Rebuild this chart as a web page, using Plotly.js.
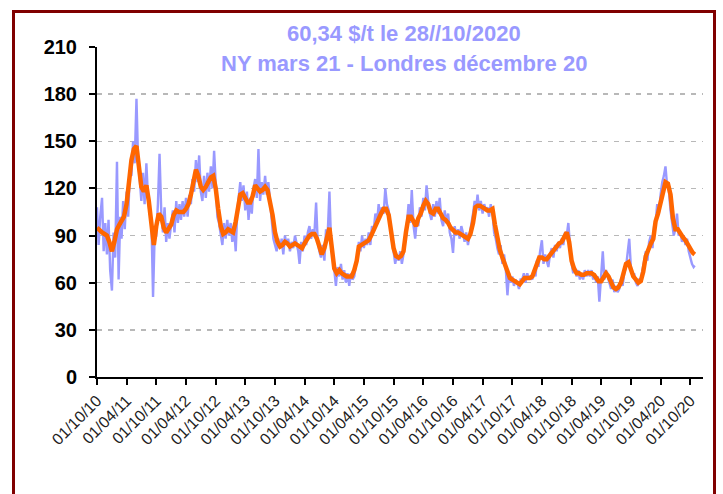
<!DOCTYPE html>
<html>
<head>
<meta charset="utf-8">
<script src="https://cdn.plot.ly/plotly-3.0.1.min.js"></script>
<style>
  html, body { margin: 0; padding: 0; background: #ffffff; overflow: hidden; }
  #wrap { position: relative; width: 723px; height: 494px; }
  #chart { position: absolute; left: 0; top: 0; width: 723px; height: 494px; }
  #frame { position: absolute; left: 12px; top: 10px; width: 698px; height: 600px;
           border: 3px solid #800000; pointer-events: none; }
</style>
</head>
<body>
<div id="wrap"><div id="chart"></div><div id="frame"></div></div>
<script>
// Titles
const titleLine1 = "60,34 $/t le 28//10/2020";
const titleLine2 = "NY mars 21 - Londres décembre 20";

// Axis ticks
const yTicks = [0, 30, 60, 90, 120, 150, 180, 210];
const startMonth = "2010-10"; // first month of the series (Oct 2010)
const lastDate = "2020-10-28";

// Smoothed spread (orange), two readings per month (1st and 16th), Oct -> Sep years
const smooth2010 = [95,93,92,91,90,86,80,86,94,97,99,102,110,128,138,145,147,134,121,118,122,112,94,84];
const smooth2011 = [96,104,102,95,92,94,97,103,106,105,105,105,107,110,116,125,132,128,121,119,121,124,127,128];
const smooth2012 = [120,107,96,91,92,94,93,92,99,111,116,117,113,111,111,115,122,120,118,119,121,119,112,103];
const smooth2013 = [92,86,83,84,86,85,83,84,85,84,83,82,85,88,90,91,91,88,82,78,82,90,95,82];
const smooth2014 = [69,66,68,66,65,64,64,64,68,74,83,84,85,86,87,90,94,97,101,104,107,107,103,92];
const smooth2015 = [82,77,76,77,80,92,102,102,99,96,101,104,109,112,110,105,104,107,107,104,101,100,98,95];
const smooth2016 = [93,92,92,91,90,89,88,91,98,108,109,109,108,107,106,106,107,97,87,81,76,72,66,63];
const smooth2017 = [62,61,60,59,61,63,63,63,64,68,73,76,76,75,75,77,80,82,83,85,86,89,92,86];
const smooth2018 = [74,69,66,66,65,65,66,66,66,65,63,61,61,64,66,64,60,57,56,57,60,65,72,73];
const smooth2019 = [69,64,62,60,61,67,77,82,85,88,99,104,112,120,124,123,116,101,94,94,92,89,87,84];
const smooth2020 = [81,79];
const smoothLast = 78;

// Daily spread (blue), three readings per month (1st, 11th, 21st), Oct -> Sep years
const daily2010 = [108,84,102,114,80,98,78,100,68,55,92,76,137,62,102,88,112,94,118,102,130,128,150,136,177,138,126,112,130,110,136,114,104,100,51,90];
const daily2011 = [90,110,142,104,92,108,86,98,88,100,106,92,112,98,110,100,112,102,114,102,116,110,126,118,138,124,141,118,112,128,114,130,118,134,120,144];
const daily2012 = [120,102,98,90,84,98,88,100,90,98,86,96,80,106,114,124,112,122,106,118,100,114,104,120,126,114,145,112,124,116,128,116,124,110,96,88];
const daily2013 = [84,80,88,82,88,78,90,84,88,80,86,82,90,84,80,72,86,80,90,84,92,96,88,94,92,111,86,80,76,84,74,94,90,118,86,78];
const daily2014 = [66,58,70,64,72,62,68,60,66,58,66,62,64,72,76,86,80,90,82,88,84,92,84,96,94,104,98,110,102,108,104,120,110,106,94,88];
const daily2015 = [80,72,78,74,80,72,78,88,96,110,98,119,96,88,100,96,108,102,114,106,122,112,104,100,110,102,112,104,114,100,96,106,98,104,92,88];
const daily2016 = [79,96,90,94,88,96,92,86,92,84,90,96,104,112,108,116,106,112,104,110,106,108,102,110,104,92,88,82,78,84,72,78,70,52,66,60];
const daily2017 = [64,58,62,60,56,62,62,66,60,66,62,64,62,68,64,74,70,80,87,72,78,74,70,78,82,76,84,80,86,82,88,84,92,90,98,84];
const daily2018 = [72,66,70,64,68,62,66,62,68,64,68,64,68,62,66,60,64,48,66,80,62,68,64,60,56,62,54,58,54,56,62,58,66,70,80,88];
const daily2019 = [70,64,66,60,58,62,62,68,74,80,74,86,90,82,96,98,110,104,116,124,128,134,122,120,106,96,90,94,104,90,92,86,90,84,88,80];
const daily2020 = [76,72,70];
const dailyLast = 71;

function monthStr(m) {
  const [y0, mo0] = startMonth.split("-").map(Number);
  const t = (mo0 - 1) + m;
  const y = y0 + Math.floor(t / 12);
  const mo = (t % 12) + 1;
  return y + "-" + String(mo).padStart(2, "0");
}

const smoothVals = [].concat(smooth2010, smooth2011, smooth2012, smooth2013, smooth2014,
  smooth2015, smooth2016, smooth2017, smooth2018, smooth2019, smooth2020, [smoothLast]);
const smoothDates = [];
for (let i = 0; i < smoothVals.length - 1; i++) {
  smoothDates.push(monthStr(Math.floor(i / 2)) + (i % 2 ? "-16" : "-01"));
}
smoothDates.push(lastDate);

const dailyVals = [].concat(daily2010, daily2011, daily2012, daily2013, daily2014,
  daily2015, daily2016, daily2017, daily2018, daily2019, daily2020, [dailyLast]);
const dailyDays = ["-01", "-11", "-21"];
const dailyDates = [];
for (let i = 0; i < dailyVals.length - 1; i++) {
  dailyDates.push(monthStr(Math.floor(i / 3)) + dailyDays[i % 3]);
}
dailyDates.push(lastDate);

const traces = [
  { x: dailyDates, y: dailyVals, type: "scatter", mode: "lines",
    line: { color: "#9999ff", width: 2.4 }, hoverinfo: "skip", showlegend: false },
  { x: smoothDates, y: smoothVals, type: "scatter", mode: "lines",
    line: { color: "#ff6600", width: 4.5 }, hoverinfo: "skip", showlegend: false }
];

const layout = {
  width: 723, height: 494,
  margin: { l: 97, r: 20, t: 47, b: 117, pad: 0 },
  paper_bgcolor: "#ffffff", plot_bgcolor: "#ffffff",
  showlegend: false,
  xaxis: {
    type: "date",
    range: ["2010-10-01", "2020-12-18"],
    tick0: "2010-10-01", dtick: "M6", tickformat: "%d/%m/%y",
    tickangle: -45, ticks: "outside", ticklen: 6, tickwidth: 2, tickcolor: "#000",
    showline: true, linecolor: "#000", linewidth: 2,
    showgrid: false, zeroline: false,
    tickfont: { family: "Liberation Sans, Arial, sans-serif", size: 16, color: "#222" }
  },
  yaxis: {
    range: [0, 210], tickvals: yTicks,
    ticks: "outside", ticklen: 6, tickwidth: 2, tickcolor: "#000",
    showline: true, linecolor: "#000", linewidth: 2,
    showgrid: true, gridcolor: "#b8b8b8", gridwidth: 1.5, griddash: "5px,6px",
    zeroline: false, ticklabelstandoff: 8,
    tickfont: { family: "Liberation Sans, Arial, sans-serif", size: 20, color: "#000", weight: "bold" }
  },
  shapes: [
    { type: "rect", xref: "paper", yref: "paper", x0: 0.071, x1: 0.949, y0: 0.98, y1: 1.02,
      fillcolor: "#ffffff", line: { width: 0 }, layer: "above" }
  ],
  annotations: [
    { text: titleLine1, xref: "paper", yref: "paper", x: 0.507, y: 1.041,
      xanchor: "center", yanchor: "middle", showarrow: false,
      font: { family: "Liberation Sans, Arial, sans-serif", size: 22, color: "#9999ff", weight: "bold" } },
    { text: titleLine2, xref: "paper", yref: "paper", x: 0.507, y: 0.95,
      xanchor: "center", yanchor: "middle", showarrow: false,
      font: { family: "Liberation Sans, Arial, sans-serif", size: 22, color: "#9999ff", weight: "bold" } }
  ]
};

Plotly.newPlot("chart", traces, layout, { displayModeBar: false, staticPlot: true });
</script>
</body>
</html>
